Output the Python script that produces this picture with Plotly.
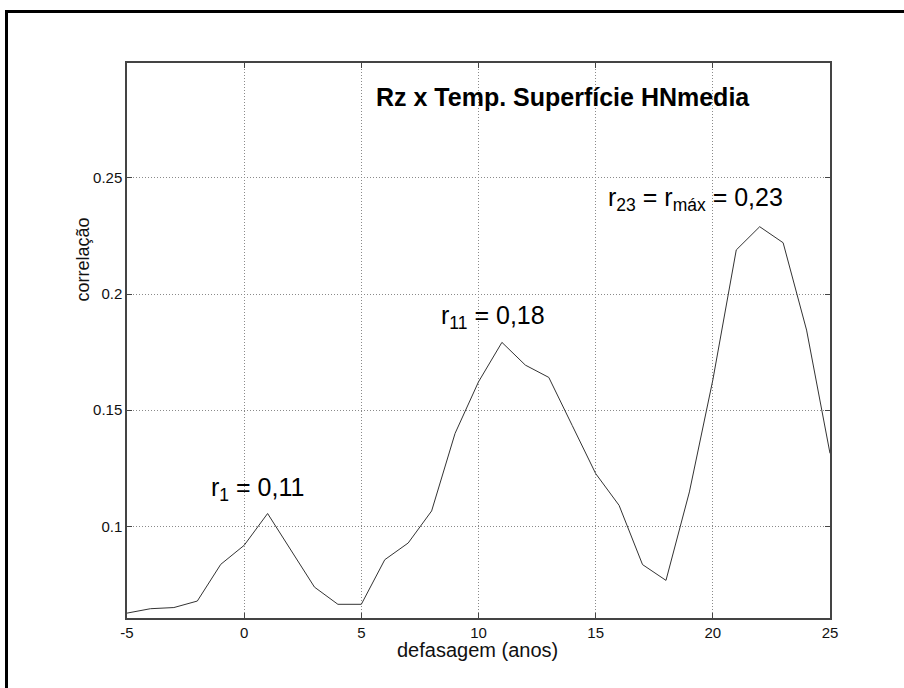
import plotly.graph_objects as go

lags = list(range(-5, 26))
corr = [0.0626, 0.0645, 0.0650, 0.0678, 0.0836, 0.0918, 0.1055, 0.0897, 0.0738,
        0.0664, 0.0664, 0.0856, 0.0928, 0.1066, 0.1400, 0.1622, 0.1792, 0.1694,
        0.1641, 0.1434, 0.1227, 0.1090, 0.0835, 0.0767, 0.1148, 0.1630, 0.2190,
        0.2290, 0.2221, 0.1845, 0.1314]

x_ticks = [-5, 0, 5, 10, 15, 20, 25]
y_ticks = [0.1, 0.15, 0.2, 0.25]
y_tick_text = ["0.1", "0.15", "0.2", "0.25"]

title_text = "<b>Rz x Temp. Superfície HNmedia</b>"
x_label = "defasagem (anos)"
y_label = "correlação"
notes = [
    (0.55, 0.1160, "r<sub>1</sub> = 0,11"),
    (10.62, 0.1900, "r<sub>11</sub> = 0,18"),
    (19.28, 0.2410, "r<sub>23</sub> = r<sub>máx</sub> = 0,23"),
]

FONT = "Liberation Sans, Arial, Helvetica, sans-serif"

fig = go.Figure()
fig.add_trace(go.Scatter(x=lags, y=corr, mode="lines",
                         line=dict(color="#333333", width=1), showlegend=False,
                         hoverinfo="skip"))

W, H = 904, 688
L, R, T, B = 127, 74, 63, 70
pw, ph = W - L - R, H - T - B


def px_x(x):
    return (x - L) / pw


def px_y(y):
    return (H - B - y) / ph


axis_common = dict(showline=True, linecolor="#444444", linewidth=1.5, mirror="ticks",
                   ticks="inside", ticklen=5, tickcolor="#444444",
                   showgrid=True, gridcolor="#8a8a8a", griddash="1px,2px", gridwidth=1,
                   zeroline=False, tickfont=dict(family=FONT, size=15, color="#111111"))

fig.update_xaxes(range=[-5, 25], tickvals=x_ticks, ticktext=[str(v) for v in x_ticks], **axis_common)
fig.update_yaxes(range=[0.0605, 0.2995], tickvals=y_ticks, ticktext=y_tick_text, **axis_common)

for x, y, t in notes:
    fig.add_annotation(x=x, y=y, xref="x", yref="y", text=t, showarrow=False,
                       font=dict(family=FONT, size=25, color="#000000"),
                       xanchor="center", yanchor="middle")

fig.add_annotation(x=13.59, y=0.2849, xref="x", yref="y", text=title_text, showarrow=False,
                   font=dict(family=FONT, size=25, color="#000000"),
                   xanchor="center", yanchor="middle")

fig.add_annotation(x=px_x(477.5), y=px_y(650), xref="paper", yref="paper",
                   text=x_label, showarrow=False,
                   font=dict(family=FONT, size=20, color="#111111"),
                   xanchor="center", yanchor="middle")
fig.add_annotation(x=px_x(82.5), y=px_y(260), xref="paper", yref="paper",
                   text=y_label, showarrow=False, textangle=-90,
                   font=dict(family=FONT, size=18, color="#111111"),
                   xanchor="center", yanchor="middle")

# outer frame (top and left edges visible)
fx0 = px_x(6.5)
fy_top = px_y(11.5)
fx_right = px_x(920)
fy_bot = px_y(700)
fig.add_shape(type="path", xref="paper", yref="paper",
              path=f"M {fx0} {fy_bot} L {fx0} {fy_top} L {fx_right} {fy_top}",
              line=dict(color="#000000", width=3))

fig.update_layout(width=W, height=H, margin=dict(l=L, r=R, t=T, b=B),
                  paper_bgcolor="white", plot_bgcolor="white",
                  font=dict(family=FONT), hovermode=False)

fig.write_html("out.html", config={"displayModeBar": False},
               post_script="document.body.style.margin='0';document.body.style.overflow='hidden';")
